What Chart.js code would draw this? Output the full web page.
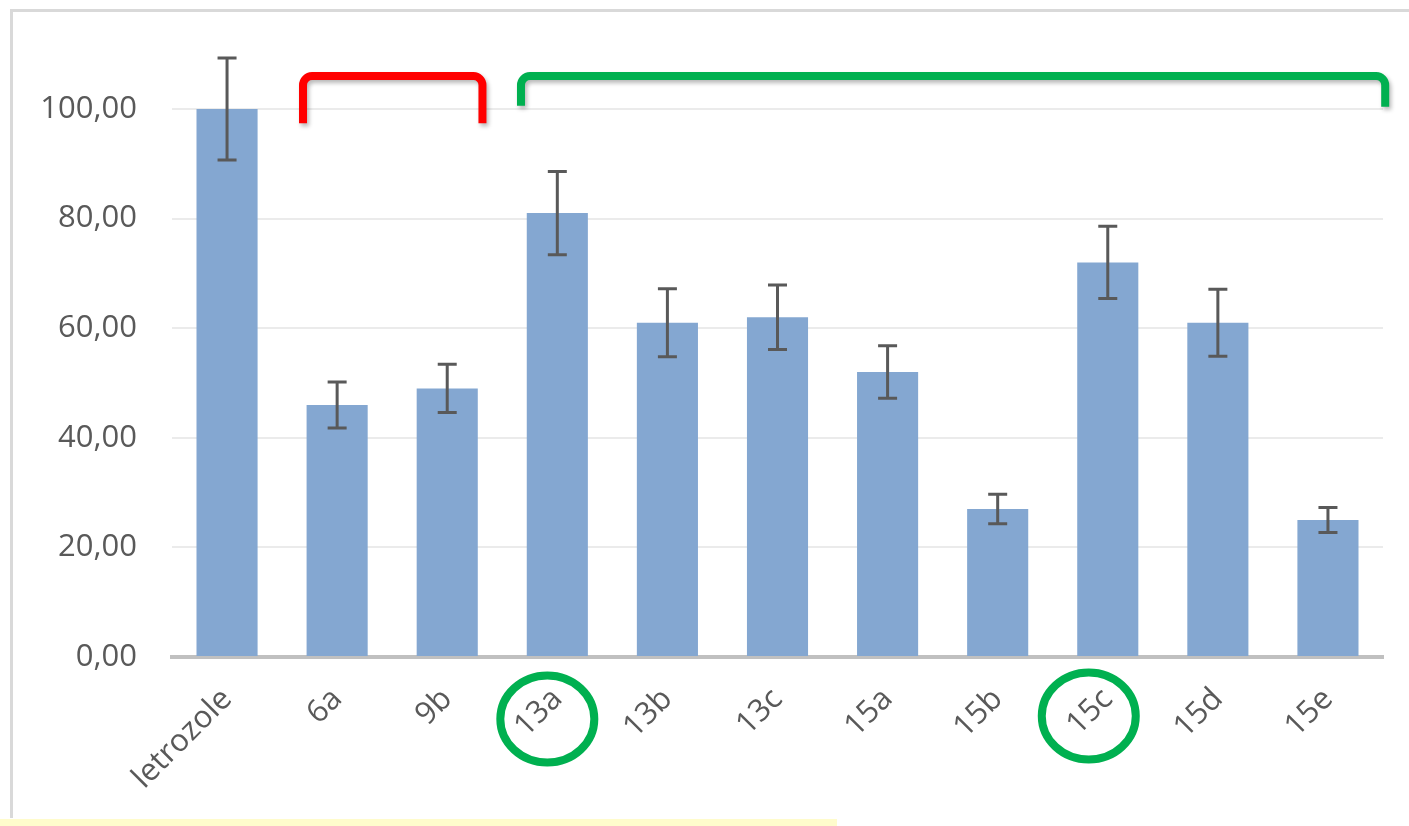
<!DOCTYPE html>
<html><head><meta charset="utf-8">
<script src="https://cdn.jsdelivr.net/npm/chart.js@4"></script>
<style>html,body{margin:0;padding:0;background:#fff;overflow:hidden}</style>
</head><body>
<canvas id="c" width="1409" height="826" style="display:block;width:1409px;height:826px"></canvas>
<script>
const categories = ['letrozole', '6a', '9b', '13a', '13b', '13c', '15a', '15b', '15c', '15d', '15e'];
const values = [100, 46, 49, 81, 61, 62, 52, 27, 72, 61, 25];
const errors = [9.3, 4.2, 4.4, 7.6, 6.2, 5.9, 4.8, 2.7, 6.6, 6.1, 2.3];
const yTickValues = [0, 20, 40, 60, 80, 100];

const FONT = '"Open Sans", "Noto Sans", sans-serif';

const framePlugin = {
  id: 'frame',
  beforeDraw(chart) {
    const ctx = chart.ctx;
    ctx.save();
    ctx.fillStyle = '#ffffff';
    ctx.fillRect(0, 0, chart.width, chart.height);
    ctx.fillStyle = '#fffccc';
    ctx.fillRect(0, 819, 837, 7);
    ctx.strokeStyle = '#d9d9d9';
    ctx.lineWidth = 3;
    ctx.beginPath();
    ctx.moveTo(11.5, 9);
    ctx.lineTo(11.5, 818);
    ctx.moveTo(10, 10.5);
    ctx.lineTo(chart.width, 10.5);
    ctx.stroke();
    ctx.restore();
  }
};

const errorBarPlugin = {
  id: 'errorBars',
  afterDatasetsDraw(chart) {
    const ctx = chart.ctx;
    const xs = chart.scales.x, ys = chart.scales.y;
    ctx.save();
    ctx.strokeStyle = '#595959';
    ctx.lineWidth = 3;
    values.forEach((v, i) => {
      const x = xs.getPixelForValue(i);
      const yTop = ys.getPixelForValue(v + errors[i]);
      const yBot = ys.getPixelForValue(v - errors[i]);
      ctx.beginPath();
      ctx.moveTo(x, yTop); ctx.lineTo(x, yBot);
      ctx.moveTo(x - 9.5, yTop); ctx.lineTo(x + 9.5, yTop);
      ctx.moveTo(x - 9.5, yBot); ctx.lineTo(x + 9.5, yBot);
      ctx.stroke();
    });
    ctx.restore();
  }
};

function bracket(ctx, xl, xr, yt, ybl, ybr, color) {
  const r = 9;
  ctx.save();
  ctx.strokeStyle = color;
  ctx.lineWidth = 8;
  ctx.lineJoin = 'round';
  ctx.shadowColor = 'rgba(0,0,0,0.28)';
  ctx.shadowBlur = 4;
  ctx.shadowOffsetX = 2;
  ctx.shadowOffsetY = 3;
  ctx.beginPath();
  ctx.moveTo(xl, ybl);
  ctx.lineTo(xl, yt + r);
  ctx.arcTo(xl, yt, xl + r, yt, r);
  ctx.lineTo(xr - r, yt);
  ctx.arcTo(xr, yt, xr, yt + r, r);
  ctx.lineTo(xr, ybr);
  ctx.stroke();
  ctx.restore();
}

const annotationPlugin = {
  id: 'annot',
  afterDraw(chart) {
    const ctx = chart.ctx;
    const xs = chart.scales.x, ys = chart.scales.y;
    const w = xs.getPixelForValue(1) - xs.getPixelForValue(0);
    const yt = ys.getPixelForValue(106);
    bracket(ctx, xs.getPixelForValue(1) - 0.31 * w, xs.getPixelForValue(2) + 0.32 * w,
      yt, ys.getPixelForValue(97.4), ys.getPixelForValue(97.4), '#ff0000');
    bracket(ctx, xs.getPixelForValue(3) - 0.33 * w, xs.getPixelForValue(10) + 0.52 * w,
      yt, ys.getPixelForValue(100.6), ys.getPixelForValue(100.4), '#00b050');
    ctx.save();
    ctx.strokeStyle = '#00b050';
    ctx.lineWidth = 8;
    const cb = chart.chartArea.bottom;
    [[3, -10, 62], [8, -19, 59]].forEach(([i, dx, dy]) => {
      ctx.beginPath();
      ctx.ellipse(xs.getPixelForValue(i) + dx, cb + dy, 47, 43.5, 0, 0, Math.PI * 2);
      ctx.stroke();
    });
    ctx.restore();
  }
};

new Chart(document.getElementById('c'), {
  type: 'bar',
  data: {
    labels: categories,
    datasets: [{
      data: values,
      backgroundColor: '#84a7d1',
      borderWidth: 0,
      barPercentage: 0.555,
      categoryPercentage: 1.0
    }]
  },
  options: {
    responsive: false,
    animation: false,
    devicePixelRatio: 1,
    layout: { padding: { top: 109, right: 26, left: 0, bottom: 0 } },
    plugins: { legend: { display: false }, tooltip: { enabled: false } },
    scales: {
      x: {
        offset: true,
        grid: { display: false, drawTicks: false },
        border: { display: true, color: '#c0c0c0', width: 4 },
        ticks: {
          color: '#595959',
          font: { family: FONT, size: 31 },
          minRotation: 45, maxRotation: 45,
          padding: 24,
          autoSkip: false
        },
        afterFit(s) { s.height = 169; }
      },
      y: {
        min: 0, max: 100,
        grid: { color: '#ebebeb', lineWidth: 2, drawTicks: false },
        border: { display: false },
        ticks: {
          color: '#595959',
          font: { family: FONT, size: 31 },
          padding: 35,
          stepSize: 20,
          callback: (v) => v.toFixed(2).replace('.', ',')
        },
        afterBuildTicks(s) { s.ticks = yTickValues.map(v => ({ value: v })); },
        afterFit(s) { s.width = 172; }
      }
    }
  },
  plugins: [framePlugin, errorBarPlugin, annotationPlugin]
});
</script>
</body></html>
